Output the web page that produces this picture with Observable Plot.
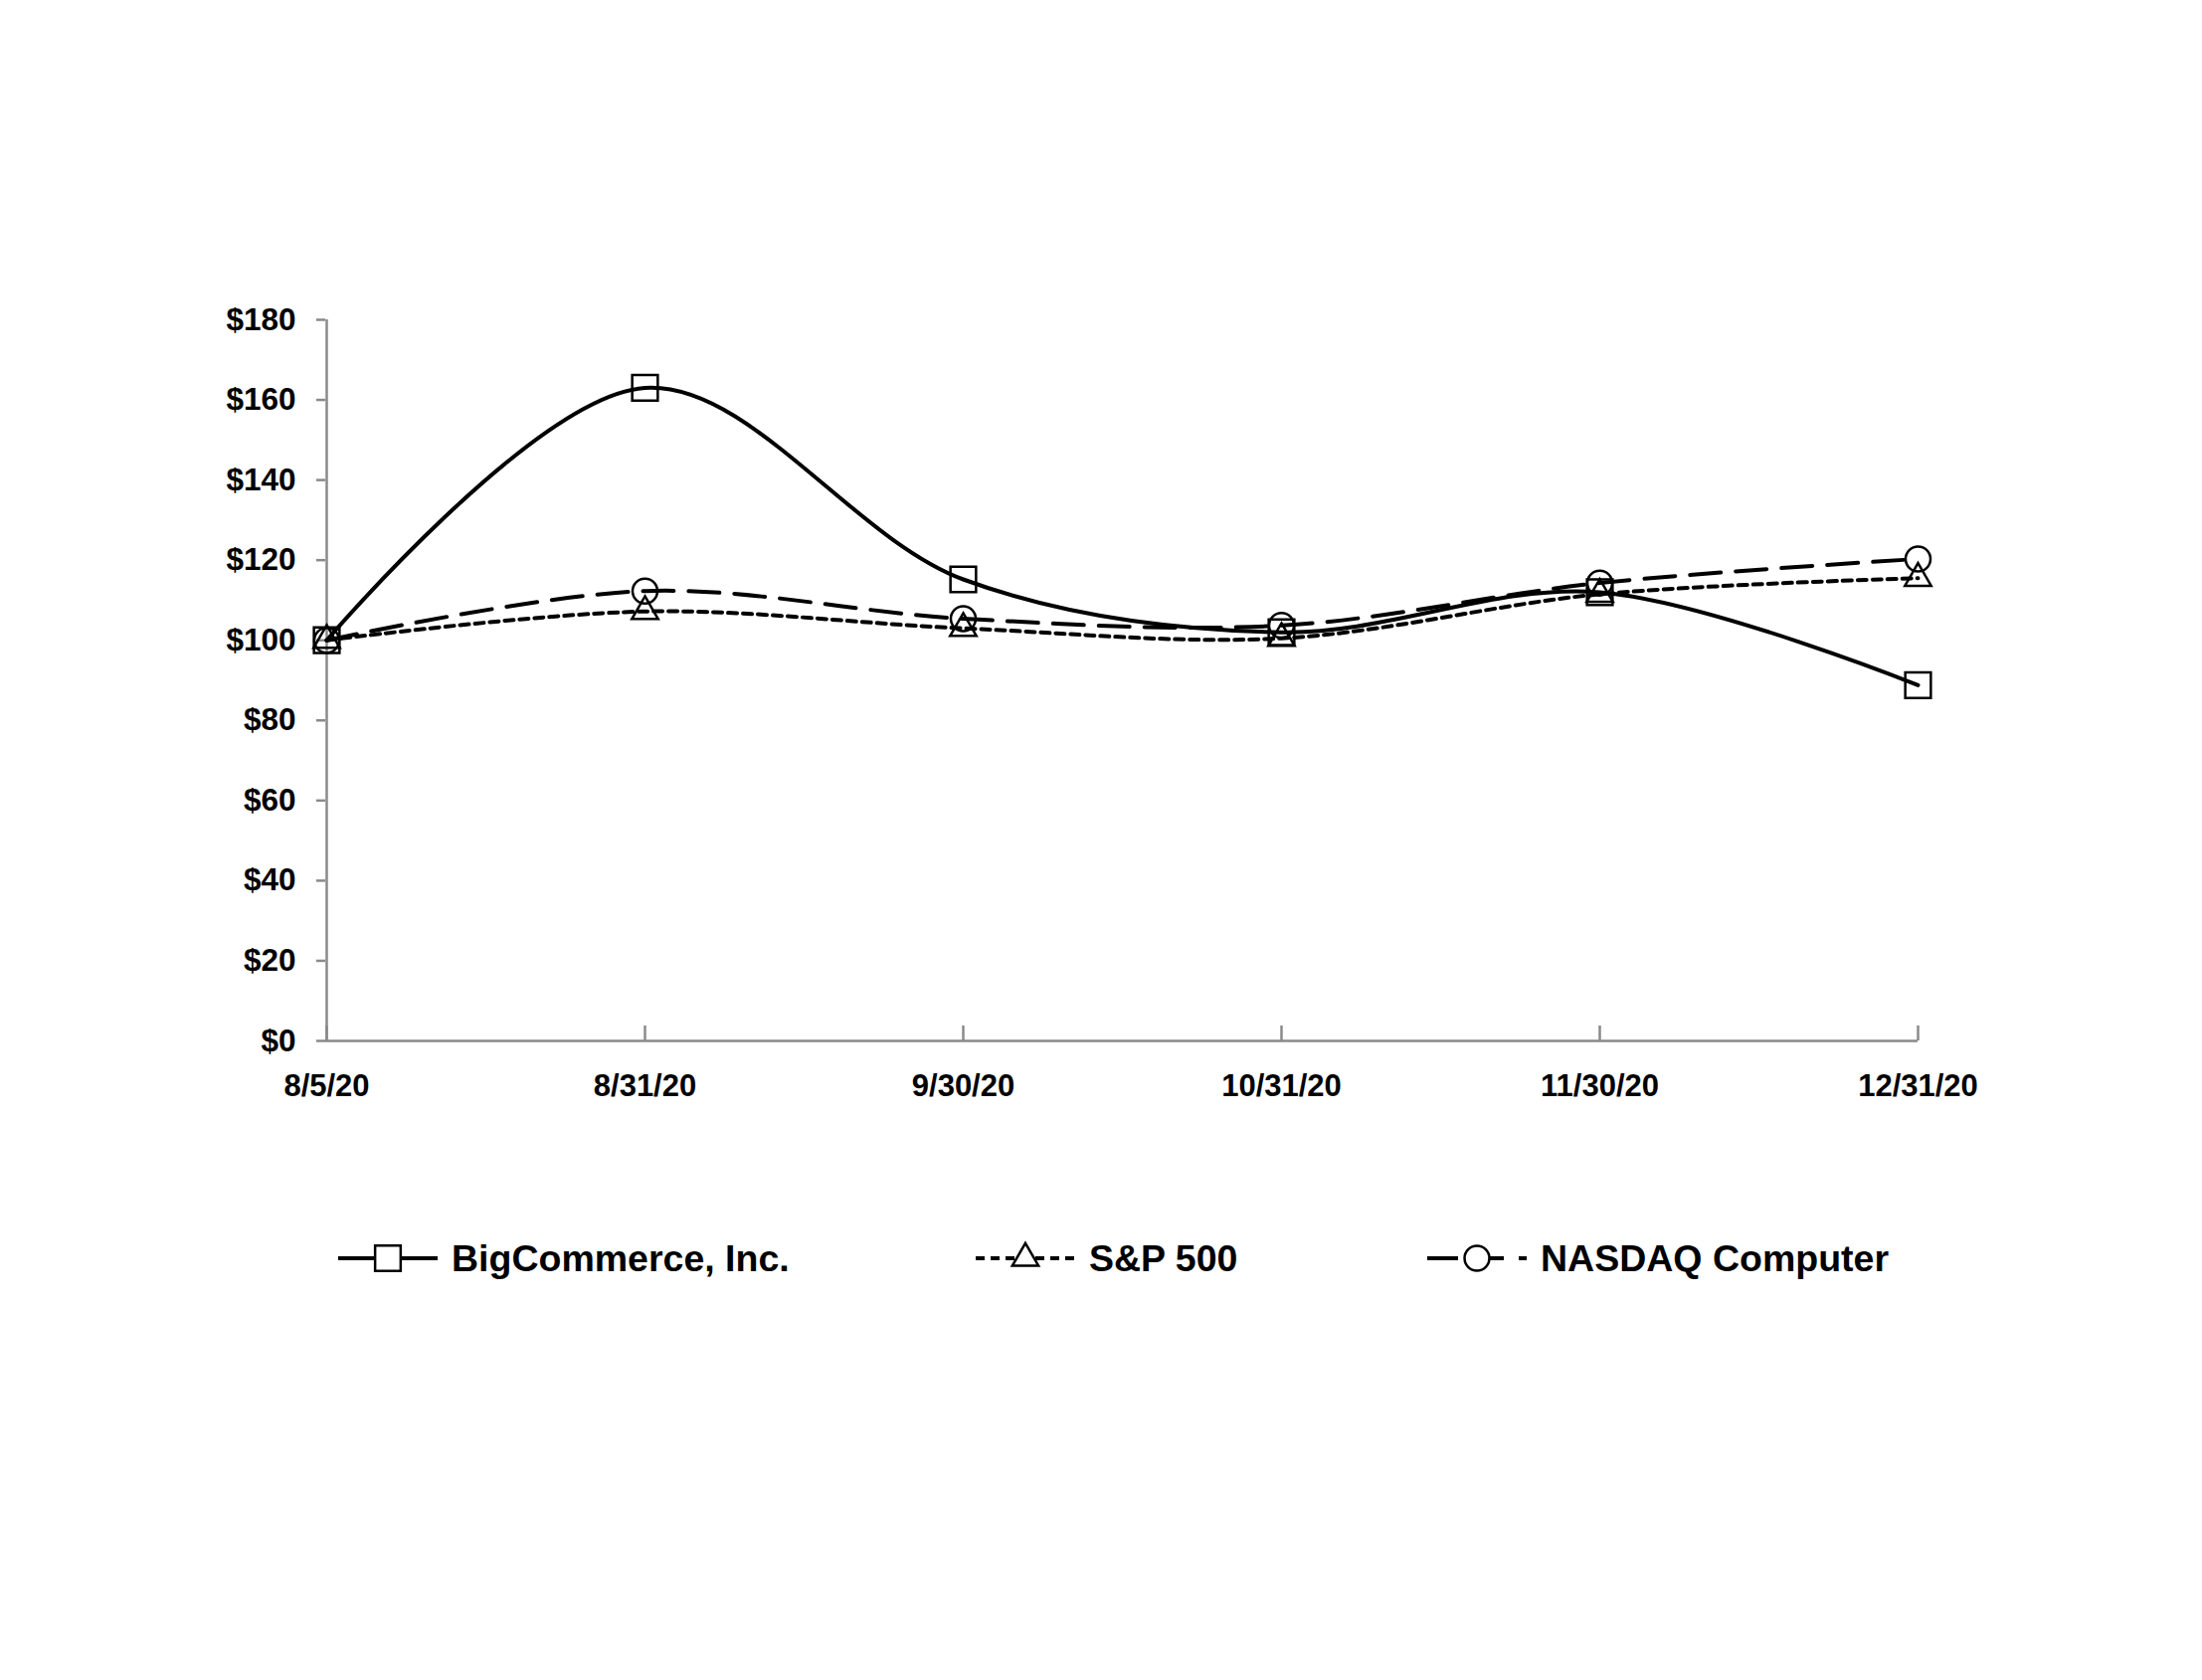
<!DOCTYPE html>
<html>
<head>
<meta charset="utf-8">
<script src="https://cdn.jsdelivr.net/npm/d3@7"></script>
<script src="https://cdn.jsdelivr.net/npm/@observablehq/plot@0.6"></script>
<style>
  html, body { margin: 0; padding: 0; background: #fff; }
  #wrap { position: relative; width: 2214px; height: 1689px; background: #fff; font-family: "Liberation Sans", Arial, sans-serif; }
  #wrap svg.chart text { font-weight: bold; fill: #000; }
  .legend-item { position: absolute; display: flex; align-items: center; height: 44px; }
  .legend-item span { font-size: 37.5px; font-weight: bold; color: #000; white-space: nowrap; }
</style>
</head>
<body>
<div id="wrap"></div>
<script>
// ---- data ----
const dates = ["8/5/20", "8/31/20", "9/30/20", "10/31/20", "11/30/20", "12/31/20"];
const bigCommerce = [100, 163, 115.2, 102, 112, 88.8];
const sp500 = [100, 107.2, 103, 100.5, 111.5, 115.5];
const nasdaqComputer = [100, 112.3, 105.4, 103.7, 114.3, 120.3];
const seriesNames = ["BigCommerce, Inc.", "S&P 500", "NASDAQ Computer"];
const yTicks = [0, 20, 40, 60, 80, 100, 120, 140, 160, 180];

const seriesValues = [bigCommerce, sp500, nasdaqComputer];
const rows = seriesNames.map((name, i) => dates.map((date, j) => ({series: name, date, value: seriesValues[i][j]})));

const styles = [
  {symbol: "square", r: 14.5, dash: null},
  {symbol: "triangle", r: 9.8, dash: "9,6"},
  {symbol: "circle", r: 12.5, dash: "31,15"}
];

const axisGray = "#8a8a8a";

const chart = Plot.plot({
  width: 2214,
  height: 1130,
  marginLeft: 327,
  marginRight: 286,
  marginTop: 321,
  marginBottom: 84,
  style: {fontFamily: "'Liberation Sans', Arial, sans-serif", fontSize: "31px", background: "white", color: "black"},
  x: {type: "point", domain: dates, padding: 0, label: null},
  y: {domain: [0, 180], label: null},
  marks: [
    Plot.ruleX([dates[0]], {stroke: axisGray, strokeWidth: 2.5}),
    Plot.ruleY([0], {stroke: axisGray, strokeWidth: 2.5}),
    Plot.axisY({ticks: yTicks, tickSize: 9, tickFormat: () => "", stroke: axisGray, strokeWidth: 2.5, label: null}),
    Plot.axisY({ticks: yTicks, tickSize: 0, tickPadding: 30, tickFormat: d => "$" + d, fontSize: 31.5, label: null}),
    Plot.axisX({tickSize: 15, dy: -15, tickFormat: () => "", stroke: axisGray, strokeWidth: 2.5, label: null}),
    Plot.axisX({tickSize: 0, tickPadding: 33, fontSize: 31, label: null}),
    ...rows.map((data, i) => Plot.line(data, {
      x: "date", y: "value", curve: "catmull-rom",
      stroke: "black", strokeWidth: 4, strokeDasharray: styles[i].dash
    })),
    ...rows.map((data, i) => Plot.dot(data, {
      x: "date", y: "value", symbol: styles[i].symbol, r: styles[i].r,
      stroke: "black", strokeWidth: 2.5, fill: "none"
    }))
  ]
});
chart.classList.add("chart");
chart.style.position = "absolute";
chart.style.left = "0px";
chart.style.top = "0px";
const wrap = document.getElementById("wrap");
wrap.appendChild(chart);

// ---- legend ----
const legendPos = [340, 981, 1435];
const legendRow = 1243;
seriesNames.forEach((name, i) => {
  const item = document.createElement("div");
  item.className = "legend-item";
  item.style.left = legendPos[i] + "px";
  item.style.top = legendRow + "px";
  const svg = d3.create("svg").attr("width", 100).attr("height", 44).style("overflow", "visible");
  svg.append("line").attr("x1", 0).attr("x2", 100).attr("y1", 22).attr("y2", 22)
    .attr("stroke", "black").attr("stroke-width", 4)
    .attr("stroke-dasharray", styles[i].dash);
  const size = Math.PI * styles[i].r * styles[i].r;
  const sym = {square: d3.symbolSquare, triangle: d3.symbolTriangle, circle: d3.symbolCircle}[styles[i].symbol];
  svg.append("path").attr("d", d3.symbol(sym, size)()).attr("transform", "translate(50,22)")
    .attr("fill", "white").attr("stroke", "black").attr("stroke-width", 2.5);
  item.appendChild(svg.node());
  const span = document.createElement("span");
  span.textContent = name;
  span.style.marginLeft = "14px";
  item.appendChild(span);
  wrap.appendChild(item);
});
</script>
</body>
</html>
